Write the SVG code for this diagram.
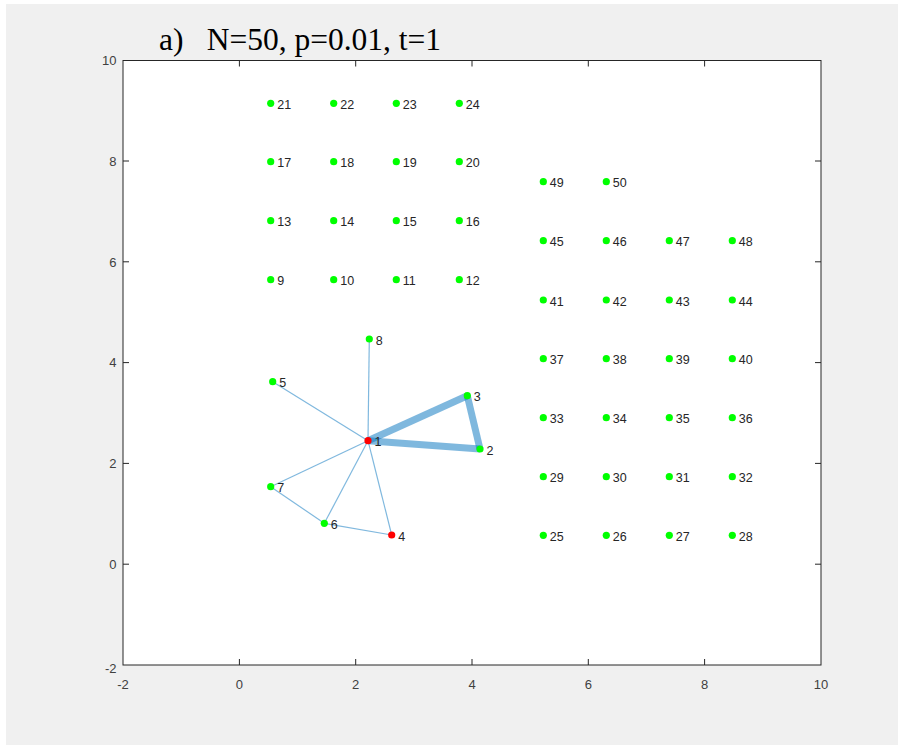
<svg xmlns="http://www.w3.org/2000/svg" width="898" height="745" viewBox="0 0 898 745">
<style>
.nd{fill:#00ff00}
.rd{fill:#ff0000}
.lb{font-family:"Liberation Sans",Arial,sans-serif;font-size:12.5px;fill:#262626}
.tk{font-family:"Liberation Sans",Arial,sans-serif;font-size:13px;fill:#404040}
.ax{stroke:#262626;stroke-width:1;fill:none}
.e{stroke:#0072bd;stroke-opacity:0.5;stroke-width:1.2;fill:none}
.ew{stroke:#0072bd;stroke-opacity:0.5;stroke-width:7;fill:none}
.ttl{font-family:"Liberation Serif","Times New Roman",serif;font-size:31.5px;fill:#000}
</style>
<rect x="0" y="0" width="898" height="745" fill="#ffffff"/>
<rect x="6" y="4" width="892" height="741" fill="#f0f0f0"/>
<text class="ttl" x="159" y="50">a)</text>
<text class="ttl" x="206.7" y="50">N=50, p=0.01, t=1</text>
<g id="axes">
<rect x="123" y="60.5" width="698" height="604.5" style="fill:#ffffff;stroke:#262626;stroke-width:1"/>
<path class="ax" d="M239.4,665v-6M355.7,665v-6M472,665v-6M588.3,665v-6M704.6,665v-6M239.4,60.5v6M355.7,60.5v6M472,60.5v6M588.3,60.5v6M704.6,60.5v6M123,564.2h6M123,463.4h6M123,362.6h6M123,261.8h6M123,161h6M821,564.2h-6M821,463.4h-6M821,362.6h-6M821,261.8h-6M821,161h-6"/>
<g class="tk" text-anchor="middle">
<text x="123" y="688.5">-2</text><text x="239.4" y="688.5">0</text><text x="355.7" y="688.5">2</text><text x="472" y="688.5">4</text><text x="588.3" y="688.5">6</text><text x="704.6" y="688.5">8</text><text x="821" y="688.5">10</text>
</g>
<g class="tk" text-anchor="end">
<text x="116.5" y="673">-2</text><text x="116.5" y="568.9">0</text><text x="116.5" y="468.1">2</text><text x="116.5" y="367.3">4</text><text x="116.5" y="266.5">6</text><text x="116.5" y="165.7">8</text><text x="116.5" y="65.2">10</text>
</g>
</g>
<g id="edges">
<line class="e" x1="368" y1="440.7" x2="369.3" y2="339"/>
<line class="e" x1="368" y1="440.7" x2="272.7" y2="381.7"/>
<line class="e" x1="368" y1="440.7" x2="270.7" y2="486.7"/>
<line class="e" x1="368" y1="440.7" x2="324.3" y2="523.3"/>
<line class="e" x1="368" y1="440.7" x2="391.7" y2="535"/>
<line class="e" x1="270.7" y1="486.7" x2="324.3" y2="523.3"/>
<line class="e" x1="324.3" y1="523.3" x2="391.7" y2="535"/>
<line class="ew" x1="368" y1="440.7" x2="467.3" y2="395.7"/>
<line class="ew" x1="368" y1="440.7" x2="480" y2="449"/>
<line class="ew" x1="467.3" y1="395.7" x2="480" y2="449"/>
</g>
<g id="n1"><circle class="rd" cx="368" cy="440.7" r="3.6"/><text class="lb" x="374.5" y="446.4">1</text></g>
<g id="n2"><circle class="nd" cx="480" cy="449" r="3.6"/><text class="lb" x="486.5" y="454.7">2</text></g>
<g id="n3"><circle class="nd" cx="467.3" cy="395.7" r="3.6"/><text class="lb" x="473.8" y="401.4">3</text></g>
<g id="n4"><circle class="rd" cx="391.7" cy="535" r="3.6"/><text class="lb" x="398.2" y="540.7">4</text></g>
<g id="n5"><circle class="nd" cx="272.7" cy="381.7" r="3.6"/><text class="lb" x="279.2" y="387.4">5</text></g>
<g id="n6"><circle class="nd" cx="324.3" cy="523.3" r="3.6"/><text class="lb" x="330.8" y="529">6</text></g>
<g id="n7"><circle class="nd" cx="270.7" cy="486.7" r="3.6"/><text class="lb" x="277.2" y="492.4">7</text></g>
<g id="n8"><circle class="nd" cx="369.3" cy="339" r="3.6"/><text class="lb" x="375.8" y="344.7">8</text></g>
<g id="n9"><circle class="nd" cx="270.7" cy="279.7" r="3.6"/><text class="lb" x="277.2" y="285.4">9</text></g>
<g id="n10"><circle class="nd" cx="333.7" cy="279.7" r="3.6"/><text class="lb" x="340.2" y="285.4">10</text></g>
<g id="n11"><circle class="nd" cx="396.3" cy="279.7" r="3.6"/><text class="lb" x="402.8" y="285.4">11</text></g>
<g id="n12"><circle class="nd" cx="459.3" cy="279.7" r="3.6"/><text class="lb" x="465.8" y="285.4">12</text></g>
<g id="n13"><circle class="nd" cx="270.7" cy="220.7" r="3.6"/><text class="lb" x="277.2" y="226.4">13</text></g>
<g id="n14"><circle class="nd" cx="333.7" cy="220.7" r="3.6"/><text class="lb" x="340.2" y="226.4">14</text></g>
<g id="n15"><circle class="nd" cx="396.3" cy="220.7" r="3.6"/><text class="lb" x="402.8" y="226.4">15</text></g>
<g id="n16"><circle class="nd" cx="459.3" cy="220.7" r="3.6"/><text class="lb" x="465.8" y="226.4">16</text></g>
<g id="n17"><circle class="nd" cx="270.7" cy="161.7" r="3.6"/><text class="lb" x="277.2" y="167.4">17</text></g>
<g id="n18"><circle class="nd" cx="333.7" cy="161.7" r="3.6"/><text class="lb" x="340.2" y="167.4">18</text></g>
<g id="n19"><circle class="nd" cx="396.3" cy="161.7" r="3.6"/><text class="lb" x="402.8" y="167.4">19</text></g>
<g id="n20"><circle class="nd" cx="459.3" cy="161.7" r="3.6"/><text class="lb" x="465.8" y="167.4">20</text></g>
<g id="n21"><circle class="nd" cx="270.7" cy="103.3" r="3.6"/><text class="lb" x="277.2" y="109">21</text></g>
<g id="n22"><circle class="nd" cx="333.7" cy="103.3" r="3.6"/><text class="lb" x="340.2" y="109">22</text></g>
<g id="n23"><circle class="nd" cx="396.3" cy="103.3" r="3.6"/><text class="lb" x="402.8" y="109">23</text></g>
<g id="n24"><circle class="nd" cx="459.3" cy="103.3" r="3.6"/><text class="lb" x="465.8" y="109">24</text></g>
<g id="n25"><circle class="nd" cx="543.3" cy="535.3" r="3.6"/><text class="lb" x="549.8" y="541">25</text></g>
<g id="n26"><circle class="nd" cx="606.3" cy="535.3" r="3.6"/><text class="lb" x="612.8" y="541">26</text></g>
<g id="n27"><circle class="nd" cx="669.3" cy="535.3" r="3.6"/><text class="lb" x="675.8" y="541">27</text></g>
<g id="n28"><circle class="nd" cx="732.3" cy="535.3" r="3.6"/><text class="lb" x="738.8" y="541">28</text></g>
<g id="n29"><circle class="nd" cx="543.3" cy="476.7" r="3.6"/><text class="lb" x="549.8" y="482.4">29</text></g>
<g id="n30"><circle class="nd" cx="606.3" cy="476.7" r="3.6"/><text class="lb" x="612.8" y="482.4">30</text></g>
<g id="n31"><circle class="nd" cx="669.3" cy="476.7" r="3.6"/><text class="lb" x="675.8" y="482.4">31</text></g>
<g id="n32"><circle class="nd" cx="732.3" cy="476.7" r="3.6"/><text class="lb" x="738.8" y="482.4">32</text></g>
<g id="n33"><circle class="nd" cx="543.3" cy="417.7" r="3.6"/><text class="lb" x="549.8" y="423.4">33</text></g>
<g id="n34"><circle class="nd" cx="606.3" cy="417.7" r="3.6"/><text class="lb" x="612.8" y="423.4">34</text></g>
<g id="n35"><circle class="nd" cx="669.3" cy="417.7" r="3.6"/><text class="lb" x="675.8" y="423.4">35</text></g>
<g id="n36"><circle class="nd" cx="732.3" cy="417.7" r="3.6"/><text class="lb" x="738.8" y="423.4">36</text></g>
<g id="n37"><circle class="nd" cx="543.3" cy="358.7" r="3.6"/><text class="lb" x="549.8" y="364.4">37</text></g>
<g id="n38"><circle class="nd" cx="606.3" cy="358.7" r="3.6"/><text class="lb" x="612.8" y="364.4">38</text></g>
<g id="n39"><circle class="nd" cx="669.3" cy="358.7" r="3.6"/><text class="lb" x="675.8" y="364.4">39</text></g>
<g id="n40"><circle class="nd" cx="732.3" cy="358.7" r="3.6"/><text class="lb" x="738.8" y="364.4">40</text></g>
<g id="n41"><circle class="nd" cx="543.3" cy="300" r="3.6"/><text class="lb" x="549.8" y="305.7">41</text></g>
<g id="n42"><circle class="nd" cx="606.3" cy="300" r="3.6"/><text class="lb" x="612.8" y="305.7">42</text></g>
<g id="n43"><circle class="nd" cx="669.3" cy="300" r="3.6"/><text class="lb" x="675.8" y="305.7">43</text></g>
<g id="n44"><circle class="nd" cx="732.3" cy="300" r="3.6"/><text class="lb" x="738.8" y="305.7">44</text></g>
<g id="n45"><circle class="nd" cx="543.3" cy="240.7" r="3.6"/><text class="lb" x="549.8" y="246.4">45</text></g>
<g id="n46"><circle class="nd" cx="606.3" cy="240.7" r="3.6"/><text class="lb" x="612.8" y="246.4">46</text></g>
<g id="n47"><circle class="nd" cx="669.3" cy="240.7" r="3.6"/><text class="lb" x="675.8" y="246.4">47</text></g>
<g id="n48"><circle class="nd" cx="732.3" cy="240.7" r="3.6"/><text class="lb" x="738.8" y="246.4">48</text></g>
<g id="n49"><circle class="nd" cx="543.3" cy="181.7" r="3.6"/><text class="lb" x="549.8" y="187.4">49</text></g>
<g id="n50"><circle class="nd" cx="606.3" cy="181.7" r="3.6"/><text class="lb" x="612.8" y="187.4">50</text></g>
</svg>
